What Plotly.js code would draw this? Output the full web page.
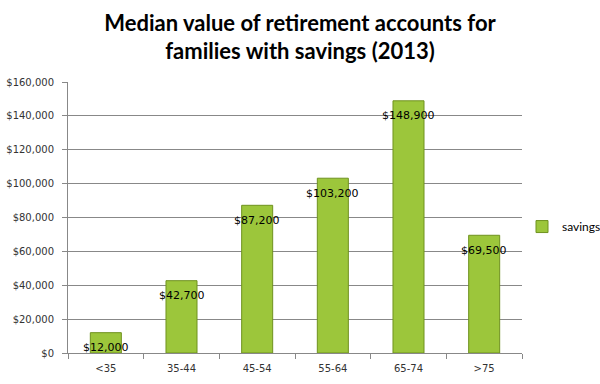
<!DOCTYPE html>
<html>
<head>
<meta charset="utf-8">
<script src="https://cdn.plot.ly/plotly-3.0.1.min.js"></script>
<style>html,body{margin:0;padding:0;background:#fff;}#chart{width:600px;height:384px;}</style>
</head>
<body>
<div id="chart"></div>
<script>
const categories = ['<35', '35-44', '45-54', '55-64', '65-74', '>75'];
const savings = [12000, 42700, 87200, 103200, 148900, 69500];
const labels = ['$12,000', '$42,700', '$87,200', '$103,200', '$148,900', '$69,500'];
const yTickVals = [0, 20000, 40000, 60000, 80000, 100000, 120000, 140000, 160000];
const yTickText = ['$0', '$20,000', '$40,000', '$60,000', '$80,000', '$100,000', '$120,000', '$140,000', '$160,000'];

const trace = {
  type: 'bar',
  name: 'savings',
  x: categories,
  y: savings,
  marker: {color: '#9cc63b', line: {color: '#6f921f', width: 1}},
  hoverinfo: 'none'
};

const annotations = categories.map((c, i) => ({
  x: c, y: savings[i], xref: 'x', yref: 'y',
  text: labels[i], showarrow: false,
  yanchor: 'middle', yshift: -15,
  font: {family: 'DejaVu Sans', size: 11, color: '#000'}
}));

const layout = {
  width: 600, height: 384,
  margin: {l: 68, r: 77, t: 82, b: 31},
  paper_bgcolor: '#fff', plot_bgcolor: '#fff',
  title: {
    text: 'Median value of retirement accounts for<br>families with savings (2013)',
    x: 0.5, xref: 'container', xanchor: 'center',
    y: 0.92, yref: 'container', yanchor: 'middle',
    font: {family: 'Lato', size: 22, color: '#000', weight: 'bold'}
  },
  bargap: 0.59,
  showlegend: true,
  legend: {
    xref: 'container', yref: 'container',
    x: 0.87, xanchor: 'left', y: 0.41, yanchor: 'middle',
    font: {family: 'Lato', size: 12, color: '#000'},
    itemwidth: 30
  },
  xaxis: {
    type: 'category',
    showline: true, linecolor: '#888', linewidth: 1,
    ticks: 'outside', tickson: 'boundaries', ticklen: 5, tickcolor: '#888',
    ticklabelstandoff: 6,
    tickfont: {family: 'DejaVu Sans', size: 10, color: '#333'},
    showgrid: false
  },
  yaxis: {
    range: [0, 160000],
    tickvals: yTickVals, ticktext: yTickText,
    showline: true, linecolor: '#888', linewidth: 1,
    ticks: 'outside', ticklen: 5, tickcolor: '#888',
    ticklabelstandoff: 6,
    gridcolor: '#888', gridwidth: 1,
    zeroline: false,
    tickfont: {family: 'DejaVu Sans', size: 10, color: '#333'}
  },
  annotations: annotations
};

Plotly.newPlot('chart', [trace], layout, {staticPlot: true});
</script>
</body>
</html>
